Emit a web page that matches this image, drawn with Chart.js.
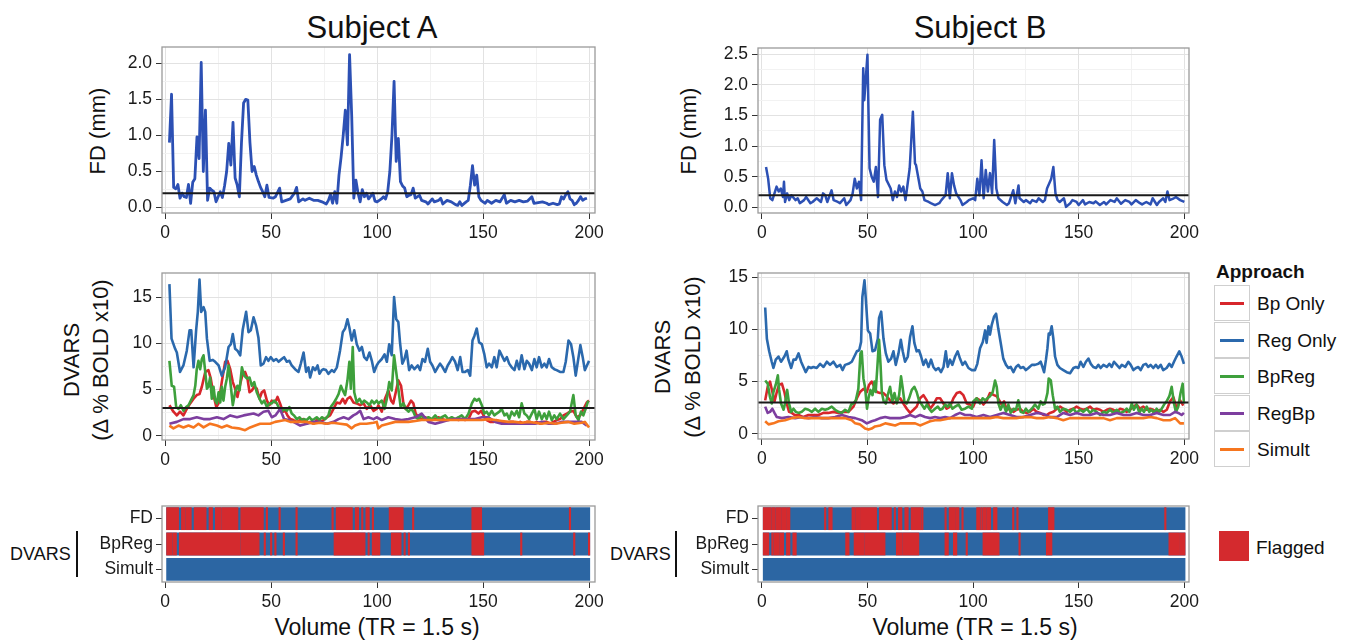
<!DOCTYPE html>
<html>
<head>
<meta charset="utf-8">
<script src="https://cdn.jsdelivr.net/npm/chart.js@4.4.0/dist/chart.umd.min.js"></script>
<style>
  body { margin: 0; background: #fff; width: 1356px; height: 642px; position: relative; overflow: hidden;
         font-family: "Liberation Sans", Arial, sans-serif; color: #111; }
  canvas { position: absolute; }
  .t { position: absolute; white-space: nowrap; line-height: 1; }
  .c { transform: translate(-50%, -50%); }
  .r { transform: translate(-50%, -50%) rotate(-90deg); }
  .key { position: absolute; width: 36px; height: 36px; border: 1px solid #cfcfcf; box-sizing: border-box; background: #fff; }
  .key i { position: absolute; left: 5px; right: 5px; top: 16px; height: 3px; }
</style>
</head>
<body>

<div class="t c" style="left:372px;top:27px;font-size:31px">Subject A</div>
<div class="t c" style="left:980px;top:27px;font-size:31px">Subject B</div>

<div class="t r" style="left:98px;top:131px;font-size:22px">FD (mm)</div>
<div class="t r" style="left:689px;top:131px;font-size:22px">FD (mm)</div>
<div class="t r" style="left:72px;top:360px;font-size:22px">DVARS</div>
<div class="t r" style="left:101px;top:360px;font-size:22px">(Δ % BOLD x10)</div>
<div class="t r" style="left:663px;top:357px;font-size:22px">DVARS</div>
<div class="t r" style="left:693px;top:357px;font-size:22px">(Δ % BOLD x10)</div>

<div class="t" style="left:10px;top:545px;font-size:18px">DVARS</div>
<div style="position:absolute;left:76px;top:531px;width:2px;height:46px;background:#111"></div>
<div class="t" style="left:610px;top:545px;font-size:18px">DVARS</div>
<div style="position:absolute;left:675px;top:531px;width:2px;height:46px;background:#111"></div>

<div class="t c" style="left:377px;top:627px;font-size:23px">Volume (TR = 1.5 s)</div>
<div class="t c" style="left:975px;top:627px;font-size:23px">Volume (TR = 1.5 s)</div>

<div class="t" style="left:1216px;top:262px;font-size:19px;font-weight:bold">Approach</div>
<div id="legend"></div>

<div style="position:absolute;left:1219px;top:531px;width:30px;height:30px;background:#d42a2e"></div>
<div class="t" style="left:1256px;top:538px;font-size:19px">Flagged</div>

<script>
/* ===== DATA: [volume, value] ===== */
const volumeTicks = [0, 50, 100, 150, 200];
const approaches = ["Bp Only", "Reg Only", "BpReg", "RegBp", "Simult"];
const flagRows = ["FD", "BpReg", "Simult"];
const fdThreshold = 0.2;
const dvarsThreshold = 3;

const fdA = [[2,0.9],[3,1.57],[4,0.28],[5,0.26],[6,0.32],[7,0.13],[8,0.2],[9,0.15],[10,0.14],[11,0.32],[12,0.06],[13,0.35],[14,0.4],[15,0.98],[16,0.68],[17,2.01],[18,0.5],[19,1.35],[20,0.1],[21,0.27],[22,0.24],[23,0.22],[24,0.08],[25,0.15],[26,0.22],[27,0.14],[28,0.3],[29,0.5],[30,0.89],[31,0.59],[32,1.18],[33,0.41],[34,0.31],[35,0.15],[36,0.9],[37,1.45],[38,1.5],[39,1.49],[40,0.9],[41,0.5],[42,0.57],[43,0.45],[44,0.36],[45,0.28],[46,0.22],[47,0.15],[48,0.31],[49,0.14],[51,0.13],[52,0.15],[54,0.27],[55,0.08],[57,0.1],[59,0.12],[61,0.2],[62,0.28],[63,0.08],[65,0.12],[66,0.1],[68,0.13],[70,0.1],[72,0.1],[74,0.08],[76,0.05],[77,0.1],[78,0.18],[79,0.06],[80,0.22],[81,0.06],[82,0.45],[83,0.7],[84,1.0],[85,1.35],[86,0.87],[87,2.12],[88,1.28],[89,0.13],[90,0.38],[91,0.2],[92,0.08],[93,0.25],[94,0.15],[95,0.2],[96,0.12],[98,0.2],[99,0.09],[100,0.08],[102,0.12],[103,0.15],[104,0.12],[105,0.22],[106,0.5],[107,1.0],[108,1.75],[109,0.64],[110,0.96],[111,0.36],[112,0.3],[113,0.27],[114,0.15],[115,0.17],[116,0.18],[117,0.27],[118,0.13],[120,0.17],[121,0.1],[123,0.08],[124,0.05],[126,0.12],[127,0.08],[129,0.1],[130,0.13],[131,0.05],[133,0.1],[135,0.08],[137,0.04],[138,0.03],[139,0.08],[140,0.03],[142,0.08],[143,0.1],[144,0.31],[145,0.58],[146,0.31],[147,0.45],[148,0.15],[149,0.1],[150,0.08],[151,0.06],[152,0.1],[154,0.06],[156,0.1],[158,0.08],[160,0.18],[161,0.06],[163,0.1],[165,0.08],[167,0.1],[169,0.08],[171,0.09],[173,0.15],[174,0.06],[176,0.07],[178,0.08],[180,0.06],[181,0.04],[183,0.06],[185,0.04],[186,0.05],[187,0.15],[188,0.12],[189,0.18],[190,0.22],[191,0.12],[192,0.1],[193,0.04],[194,0.06],[195,0.1],[196,0.15],[197,0.1],[198,0.12],[199,0.13]];

const fdB = [[2,0.66],[3,0.47],[4,0.15],[5,0.12],[7,0.34],[8,0.26],[9,0.31],[10,0.17],[10.5,0.42],[11,0.09],[12,0.23],[13,0.12],[14,0.2],[16,0.12],[17,0.15],[18,0.07],[20,0.12],[21,0.17],[23,0.07],[24,0.09],[26,0.15],[28,0.09],[29,0.23],[30,0.2],[31,0.09],[33,0.28],[34,0.12],[36,0.09],[37,0.07],[39,0.15],[40,0.04],[42,0.12],[43,0.23],[44,0.47],[45,0.31],[46,0.42],[47,0.12],[48,2.27],[48.5,1.75],[50,2.49],[51,0.64],[52,0.5],[53,0.42],[54,0.66],[55,0.17],[56,1.43],[57,1.51],[58,0.69],[59,0.45],[61,0.31],[62,0.12],[63,0.26],[64,0.17],[65,0.36],[66,0.26],[67,0.34],[68,0.12],[70,0.64],[71.5,1.56],[72.5,0.72],[73,0.69],[75,0.31],[76,0.26],[77,0.12],[79,0.09],[80,0.07],[82,0.04],[84,0.07],[85,0.12],[87,0.2],[88,0.56],[89,0.15],[90,0.56],[91,0.36],[92,0.23],[94,0.12],[95,0.04],[97,0.09],[98,0.12],[100,0.15],[101,0.12],[102,0.47],[103,0.2],[104,0.77],[105,0.15],[106,0.61],[107,0.26],[108,0.56],[109,0.23],[110,1.1],[111,0.31],[112,0.15],[114,0.09],[116,0.04],[117,0.07],[119,0.28],[120,0.07],[121.5,0.36],[122,0.15],[124,0.09],[125,0.12],[127,0.07],[128,0.12],[130,0.09],[131,0.15],[133,0.09],[134,0.12],[135,0.31],[137,0.47],[138,0.66],[139,0.23],[140,0.12],[141,0.09],[143,0.15],[144,0.01],[146,0.07],[147,0.12],[149,0.09],[150,0.04],[152,0.12],[153,0.05],[155,0.09],[157,0.07],[158,0.1],[160,0.04],[162,0.09],[163,0.05],[165,0.12],[167,0.09],[168,0.15],[170,0.06],[172,0.12],[174,0.09],[175,0.05],[177,0.12],[179,0.07],[180,0.05],[182,0.09],[184,0.05],[185,0.15],[187,0.04],[188,0.09],[190,0.15],[191,0.09],[192,0.26],[193,0.12],[195,0.15],[196,0.17],[198,0.12],[200,0.09]];

const regA = [[2,16.4],[3,10.5],[4.7,9.4],[5.5,9.0],[7,6.9],[8.6,7.6],[10.2,9.2],[11.5,11.4],[12.3,11.4],[13.4,7.4],[14.6,11.4],[15.4,13.4],[16.2,16.9],[17,13.4],[18.1,13.9],[18.9,13.4],[19.7,10.5],[21,8.1],[22.5,8.2],[23.6,8.0],[25.2,7.6],[26.7,6.5],[28.3,7.4],[29.9,9.6],[31,9.9],[31.9,11.0],[33,9.4],[34.1,9.2],[35.4,8.7],[36.6,11.5],[38.2,13.4],[39.3,11.2],[40.4,11.4],[41.7,12.8],[42.9,11.9],[44,10.6],[45.1,7.6],[46.4,7.8],[47.6,8.5],[48.7,8.1],[49.8,8.5],[51.1,8.1],[52.4,8.3],[53.5,8.0],[55,8.3],[56.1,8.5],[57.4,8.0],[58.6,8.1],[59.7,7.6],[61.3,7.2],[62.9,6.9],[64,7.8],[65.3,9.0],[66.5,6.9],[67.6,7.4],[68.4,6.3],[69.7,7.4],[70.8,7.1],[71.9,7.6],[72.8,6.7],[73.9,7.1],[74.7,7.2],[75.9,7.1],[77,6.7],[78.6,7.1],[79.7,6.9],[81,7.4],[82.5,9.2],[83.8,11.2],[84.9,11.6],[86,12.6],[86.9,11.7],[88,10.3],[89.2,11.4],[90.4,9.9],[91.7,9.2],[92.8,9.6],[93.9,8.5],[95.1,8.2],[96.4,9.0],[97.5,8.1],[98.6,6.9],[99.8,7.6],[100.6,7.9],[102.2,8.3],[103.5,8.8],[104.6,8.0],[105.7,9.9],[106.9,8.7],[108,15.0],[109,12.6],[110,12.3],[110.8,10.1],[111.9,7.8],[112.9,8.3],[113.9,9.2],[115.1,7.1],[116.3,7.6],[117.6,7.2],[119.2,7.6],[120.3,7.1],[121.4,8.3],[122.6,8.0],[123.9,9.4],[125,8.0],[126.1,7.6],[127.4,6.9],[128.6,7.4],[129.7,7.8],[130.9,7.4],[132.1,6.9],[133.3,7.6],[134.4,8.0],[135.5,8.5],[136.8,8.0],[138,7.1],[139.2,8.5],[140.3,6.9],[141.5,6.9],[142.8,7.1],[143.9,6.5],[145,10.3],[145.9,10.8],[147,11.6],[148.1,10.1],[149.4,9.9],[150.6,8.8],[151.7,7.4],[152.8,7.8],[154.1,7.4],[155.3,8.5],[156.4,7.4],[157.7,9.2],[158.8,8.7],[160.1,8.1],[161.2,8.5],[162.3,7.8],[163.5,7.4],[164.8,7.1],[165.9,8.1],[167,7.2],[168.2,8.7],[169.5,7.2],[170.6,8.1],[171.7,7.8],[173,7.1],[174.2,8.3],[175.3,7.4],[176.4,8.5],[177.7,7.4],[178.9,7.8],[180,7.4],[181.1,8.3],[182.4,7.4],[183.6,7.2],[184.7,7.1],[186.3,6.9],[187.9,6.9],[189,8.0],[190.3,10.3],[191.5,9.9],[192.6,8.5],[193.7,6.5],[194.7,8.0],[195.9,9.8],[197,8.5],[198,7.1],[199,7.6],[200,8.1]];

const bpA = [[2,3.3],[3.9,2.6],[5.5,2.2],[7,2.6],[8.6,2.2],[10.2,2.9],[11.8,3.5],[13.4,4.0],[14.9,4.4],[16.2,4.5],[17.3,5.3],[18.9,6.9],[20.4,7.1],[21.5,6.2],[22.8,4.4],[24.1,3.1],[25.2,3.5],[26.7,5.8],[28.3,8.0],[29.4,8.1],[30.7,7.2],[31.9,5.8],[33,5.1],[34.1,4.2],[35.4,5.6],[36.6,6.7],[37.7,6.9],[38.8,6.2],[39.8,4.7],[40.9,4.9],[42,5.3],[43.2,5.1],[44.5,4.0],[45.6,4.7],[46.7,4.9],[48,3.8],[49.2,3.3],[50.3,3.8],[51.9,3.6],[53,4.2],[54.2,3.5],[55.5,2.6],[56.6,2.7],[57.7,2.2],[59,1.8],[60.5,1.7],[62.1,1.5],[63.7,1.7],[65.3,1.8],[66.8,1.3],[68.4,1.5],[70,1.3],[71.5,1.7],[73.1,1.5],[74.7,1.7],[76.3,2.0],[77.8,2.2],[79.4,2.9],[81,3.6],[82.5,3.5],[83.8,4.0],[84.9,3.5],[86,4.0],[87.3,4.2],[88.8,3.6],[90.4,3.5],[92,3.3],[93.6,3.5],[95.1,2.9],[96.7,3.3],[98.3,2.7],[99.8,2.9],[100.6,3.3],[102.2,2.6],[103.7,4.0],[105.3,4.9],[106.6,3.8],[107.6,3.5],[108.8,4.7],[110,6.0],[111.3,5.4],[112.4,3.5],[113.5,2.9],[114.8,3.3],[116,3.8],[117.1,3.5],[118.2,2.4],[119.5,2.0],[121,1.8],[122.6,2.0],[124.2,1.8],[125.8,1.7],[127.4,1.8],[128.9,2.0],[130.5,1.8],[132.1,1.7],[133.6,1.7],[135.2,1.8],[136.8,1.8],[138.4,1.7],[139.9,1.8],[141.5,1.7],[143.1,1.8],[144.7,2.6],[146.2,2.7],[147.8,2.4],[149.1,2.7],[150.2,2.2],[151.7,1.7],[153.3,1.5],[154.9,1.5],[156.4,1.7],[158,1.5],[159.6,1.5],[161.2,1.3],[162.7,1.5],[164.3,1.5],[165.9,1.3],[167.5,1.5],[169,1.3],[170.6,1.5],[172.2,1.5],[173.7,1.3],[175.3,1.5],[176.9,1.3],[178.5,1.5],[180,1.5],[181.6,1.3],[183.2,1.5],[184.8,1.7],[186.3,1.8],[187.9,2.2],[189.5,2.4],[191,2.6],[192.6,2.7],[194.2,2.0],[195.8,2.2],[197.4,2.9],[198.9,3.6],[200,3.8]];

const bpRegA = [[2,8.1],[3.1,5.4],[4.2,5.3],[5.2,3.1],[6.3,2.9],[7.4,3.3],[8.6,2.7],[9.9,3.1],[11,3.3],[12.1,3.8],[13.4,4.4],[14.2,5.4],[14.9,7.2],[15.7,8.1],[16.5,7.2],[17.3,8.3],[18.1,8.7],[18.9,6.9],[19.7,5.1],[20.4,5.3],[21.2,6.3],[22,4.0],[22.8,5.3],[23.6,3.8],[24.4,3.5],[25.2,4.7],[26,3.6],[26.7,5.3],[27.5,3.8],[28.3,5.3],[29.1,6.2],[29.9,7.6],[31,5.3],[31.9,3.3],[33,4.7],[34.1,5.4],[35.1,4.9],[36.2,7.4],[37.3,6.5],[38.5,6.2],[39.8,6.3],[40.9,5.4],[42,5.8],[43.2,4.7],[44.5,4.0],[45.6,3.5],[46.7,3.8],[48,3.1],[49.2,3.5],[50.3,3.5],[51.4,3.8],[52.7,3.5],[53.9,2.9],[55,2.6],[56.1,2.9],[57.4,2.7],[58.6,3.1],[59.7,2.4],[60.8,2.2],[62.1,1.8],[63.4,2.0],[64.5,1.7],[65.6,1.8],[66.8,1.7],[68.1,2.0],[69.2,1.7],[70.3,1.8],[71.5,2.0],[72.8,1.7],[73.9,2.0],[75.5,1.8],[77,2.2],[78.1,3.1],[79.4,3.5],[80.7,4.0],[81.8,4.5],[82.9,5.4],[83.8,4.9],[84.9,4.4],[86,6.0],[86.9,8.0],[87.6,5.1],[88.5,9.6],[89.2,4.7],[90.4,3.6],[91.7,4.0],[92.8,3.5],[93.9,3.8],[95.1,3.6],[96.4,3.3],[97.5,3.8],[98.6,3.5],[99.8,3.8],[100.6,3.5],[102.2,3.8],[103.5,2.9],[104.6,4.0],[105.7,5.8],[106.9,4.9],[108,8.7],[109,6.9],[110,5.1],[111.1,3.1],[112.4,3.5],[113.5,2.9],[114.8,2.6],[116,2.9],[117.1,2.6],[118.2,2.0],[119.5,1.8],[121,2.2],[122.6,1.8],[124.2,2.0],[125.8,1.8],[127.4,2.2],[128.9,1.8],[130.5,2.0],[132.1,2.2],[133.6,1.8],[135.2,2.0],[136.8,1.8],[138.4,2.0],[139.9,2.2],[141.5,1.8],[143.1,2.4],[144.7,3.5],[145.9,4.0],[147,3.8],[148.1,4.0],[149.4,3.3],[150.6,2.4],[151.7,2.6],[152.8,2.2],[154.1,2.7],[155.3,2.2],[156.4,2.4],[157.7,2.6],[158.8,2.9],[160.1,2.2],[161.2,2.4],[162.3,1.8],[163.5,2.6],[164.8,2.2],[165.9,2.7],[167,2.0],[168.2,3.5],[169.5,2.4],[170.6,2.2],[171.7,1.8],[173,2.4],[174.2,2.9],[175.3,1.8],[176.4,2.6],[177.7,1.8],[178.9,2.4],[180,1.8],[181.1,2.6],[182.4,1.7],[183.6,2.2],[184.7,1.8],[186.3,2.4],[187.9,1.8],[189.5,2.2],[191,2.6],[192.6,4.4],[193.7,2.2],[195,1.7],[196.2,2.6],[197.3,2.2],[198.4,2.9],[199.6,3.8]];

const regBpA = [[2,1.3],[5.5,1.5],[8.6,1.8],[11.8,1.8],[14.9,2.0],[18.1,1.8],[21.2,1.8],[24.4,2.0],[27.5,1.8],[30.7,2.2],[33.9,2.0],[37,2.2],[41.7,2.4],[44,2.2],[46.4,2.6],[48.7,2.7],[50.3,2.0],[52,2.2],[54.2,2.9],[56.1,1.8],[58.2,1.7],[60.5,1.5],[63.7,1.1],[66.8,1.3],[70,1.5],[73.1,1.5],[76.3,1.3],[79.4,1.5],[81.8,1.8],[84.2,2.0],[86.5,1.8],[88.8,2.2],[90.4,2.4],[92,2.7],[93.6,1.8],[95.9,2.0],[98.3,1.8],[99.8,2.0],[102.2,1.7],[105.3,2.0],[108.5,1.8],[111.6,1.7],[114.8,1.8],[118,2.0],[121,2.4],[124.2,1.5],[127.4,1.3],[130.5,1.5],[133.6,1.7],[136.8,1.8],[140,1.8],[143.1,1.8],[146.2,1.8],[149.4,2.0],[152.5,2.0],[155.7,1.5],[158.8,1.3],[162,1.3],[165,1.3],[168.2,1.3],[171.4,1.3],[174.5,1.3],[177.7,1.5],[180.9,1.3],[184,1.3],[187,1.5],[190.2,1.5],[193,1.5],[196.5,1.5],[199,1.1]];

const simultA = [[2,1.1],[3.9,0.8],[6.3,1.1],[8.6,0.9],[11,1.1],[13.4,0.9],[15.7,1.3],[18.1,0.9],[21.2,1.3],[24.4,1.1],[26.7,0.9],[29.1,1.1],[31.4,0.9],[34.6,0.8],[37.7,0.6],[40.1,0.9],[42.5,1.1],[44.8,1.3],[47.2,1.3],[49.5,1.3],[51.9,1.5],[54.2,1.6],[56.6,1.7],[59,1.5],[61.3,1.5],[64,1.5],[66.8,1.5],[70,1.3],[73,1.4],[76,1.3],[79,1.4],[82.5,1.3],[85.7,1.2],[88,0.8],[89.6,1.1],[92,1.3],[95,1.3],[98.3,1.4],[99.8,1.5],[100.6,0.8],[102.2,1.1],[105.3,1.3],[108.5,1.5],[111.6,1.5],[114.8,1.5],[118,1.6],[121,1.7],[124.2,1.7],[127.4,1.7],[130.5,1.7],[133.6,1.7],[136.8,1.7],[140,1.7],[143.1,1.7],[146.2,1.7],[149.4,1.7],[152.5,1.8],[155.7,1.7],[158.8,1.6],[162,1.5],[165,1.5],[168.2,1.4],[171.4,1.5],[174.5,1.4],[177.7,1.3],[180.9,1.4],[184,1.3],[187,1.4],[190.2,1.5],[193,1.3],[196.5,1.4],[198,1.5],[200,0.9]];

const regB = [[1.6,12.1],[2.4,9.1],[3.5,7.9],[4.7,6.9],[5.5,6.3],[6.6,7.1],[7.9,7.4],[9.1,6.9],[10.7,7.4],[11.8,7.9],[12.6,7.1],[13.9,6.3],[15,7.1],[16.1,7.1],[17.4,7.7],[18.6,6.9],[19.7,6.4],[20.8,5.9],[22.1,6.4],[23.3,6.3],[24.4,6.4],[26,6.3],[27.6,6.7],[29.2,6.4],[30.8,6.9],[32.3,6.6],[33.9,6.9],[35.5,6.4],[37.1,6.6],[38.2,6.1],[39.4,6.6],[41,6.7],[42.6,6.9],[43.8,7.4],[45,7.9],[46.1,8.0],[47,8.8],[47.6,13.1],[48.6,14.7],[49.2,13.0],[50.2,9.9],[51.3,9.6],[52.4,7.9],[53.6,8.0],[54.9,9.1],[55.5,11.1],[56.5,11.7],[57.6,9.1],[58.7,7.7],[59.9,6.9],[61.2,7.2],[62.3,7.9],[63.4,6.6],[64.7,7.7],[65.8,9.0],[66.7,7.9],[67.8,6.9],[69.1,7.4],[70.2,9.3],[71.3,10.3],[72.2,8.7],[73.3,7.9],[74.4,8.0],[75.4,7.4],[76.5,6.6],[77.6,7.1],[78.9,6.4],[80.1,7.1],[81.2,6.4],[82.3,6.1],[83.6,6.3],[84.8,5.9],[86,6.4],[87.1,7.9],[88,6.4],[89.1,7.1],[90.2,6.6],[91.5,7.4],[92.7,7.9],[93.8,7.2],[95,6.6],[96.2,6.9],[97.8,6.3],[99.4,6.1],[100.9,6.1],[102,6.7],[103.3,8.2],[104.6,8.8],[105.7,9.9],[106.4,8.7],[107.3,10.3],[108,9.5],[108.8,10.4],[109.9,11.2],[110.9,11.5],[111.9,10.1],[113,8.8],[114.3,7.2],[115.6,6.6],[116.7,6.3],[117.8,6.4],[119.1,5.9],[120.3,6.4],[121.4,6.6],[122.5,6.3],[123.8,6.4],[125,6.1],[126.2,6.3],[127.8,6.6],[129.3,6.6],[130.9,6.7],[132,6.9],[133,6.3],[133.6,5.9],[134.5,7.1],[135.2,8.2],[135.8,9.6],[136.4,9.5],[137.2,10.3],[138,9.1],[138.8,7.4],[139.9,6.6],[141.1,6.3],[142.7,6.1],[144.3,5.9],[145.9,5.8],[147.5,6.3],[148.7,6.4],[149.8,6.3],[150.9,6.9],[152.2,6.4],[153.4,6.9],[154.6,7.2],[155.7,6.7],[156.9,6.4],[158.2,6.3],[159.3,6.6],[160.4,6.3],[161.7,6.6],[163.3,6.4],[164.5,6.7],[165.6,6.4],[166.7,6.9],[168,6.6],[169.3,6.3],[170.4,6.6],[172,6.4],[173.5,6.9],[174.6,6.6],[175.9,6.1],[177.1,6.3],[178.2,6.4],[179.3,6.1],[180.6,6.6],[181.8,6.7],[182.9,6.4],[184,6.6],[185.3,6.3],[186.5,6.6],[187.6,6.3],[188.8,6.6],[190,6.1],[191.6,6.3],[192.9,6.7],[194,6.4],[195.1,6.9],[196.3,7.4],[197.6,7.9],[198.7,7.4],[199.8,6.7]];

const bpB = [[1.6,3.2],[2.8,4.5],[3.9,5.0],[5,4.0],[6,3.1],[7.1,4.0],[8.2,4.7],[9.5,4.8],[10.7,4.0],[11.8,2.9],[12.9,2.1],[14.2,2.0],[15.5,1.8],[17.4,1.8],[19.7,1.6],[22.1,1.8],[24.4,1.8],[26.8,1.8],[29.2,2.0],[31.5,2.0],[33.9,2.1],[36.3,2.0],[38.6,2.1],[41,2.1],[43.4,2.6],[45,3.4],[46.5,4.0],[48.1,4.3],[49.7,4.0],[50.8,4.7],[52,5.0],[53.3,4.5],[54.4,4.0],[56,3.9],[57.6,3.9],[59.1,3.6],[60.7,3.2],[62.3,2.9],[63.9,3.2],[65.5,3.4],[67,2.9],[68.6,2.4],[70.2,2.0],[71.8,2.3],[73.3,2.6],[74.9,3.4],[76.5,3.7],[78.1,3.2],[79.7,2.4],[81.2,2.8],[82.8,3.4],[84.4,3.4],[86,2.9],[87.5,2.4],[89.1,2.6],[90.7,3.4],[92.3,3.9],[93.8,4.0],[95.4,3.7],[97,2.9],[98.6,2.8],[100.1,2.6],[101.7,3.4],[103.3,3.2],[104.9,2.8],[106.5,3.2],[108,3.9],[109.9,3.7],[111.2,3.6],[112.4,3.2],[113.5,2.8],[114.7,3.1],[115.9,2.3],[117.5,2.4],[119.1,2.1],[120.6,2.3],[122.2,2.4],[123.8,2.1],[125.4,2.0],[126.9,2.1],[128.5,2.4],[130.1,2.1],[131.7,2.0],[133.3,1.8],[134.8,1.8],[136.4,2.0],[138,2.1],[139.6,2.4],[141.2,2.6],[142.7,2.4],[144.3,2.1],[145.9,2.3],[147.5,2.4],[149,2.6],[150.6,2.4],[152.2,2.3],[153.8,2.4],[155.4,2.6],[156.9,2.3],[158.5,2.4],[160.1,2.3],[161.7,2.1],[163.3,2.3],[164.8,2.4],[166.4,2.3],[168,2.1],[169.6,2.4],[171.2,2.3],[172.7,2.1],[174.3,2.3],[175.9,2.6],[177.4,2.8],[179,2.4],[180.6,2.6],[182.2,2.3],[183.8,2.4],[185.3,2.3],[186.9,2.1],[188.5,2.3],[190.1,2.1],[191.7,2.3],[193.2,3.1],[194.8,3.5],[196.4,2.4],[198,3.2],[199.5,2.7]];

const bpRegB = [[1.6,5.1],[2.8,4.8],[3.9,3.5],[4.7,2.9],[5.5,4.0],[6.6,4.7],[7.6,5.6],[8.2,4.2],[9.1,2.9],[10.3,2.3],[11,2.9],[12,4.2],[12.9,2.9],[13.9,2.1],[15,2.4],[16.1,2.1],[17.4,2.0],[18.9,2.1],[20.5,2.4],[22.1,2.3],[23.7,2.1],[25.2,2.4],[26.8,2.1],[28.4,2.4],[30,2.3],[31.5,2.4],[33.1,2.6],[34.7,2.3],[36.3,2.1],[37.9,2.0],[39.4,2.3],[41,2.1],[42.3,2.8],[43.4,2.9],[44.5,3.2],[45.7,4.3],[46.7,7.7],[47.3,7.9],[48.1,5.3],[48.9,4.4],[49.8,2.4],[50.5,3.4],[51.4,4.2],[52.4,3.7],[53.3,5.0],[53.9,4.0],[54.6,6.1],[55.5,9.0],[56.2,6.6],[56.8,4.0],[57.7,3.1],[58.7,2.9],[59.6,3.7],[60.7,4.5],[61.8,3.1],[62.8,3.9],[63.9,2.9],[65,3.7],[65.9,5.5],[66.6,4.5],[67.5,3.1],[68.6,2.9],[69.7,3.4],[71,4.2],[72.2,4.5],[73.3,4.0],[74.4,3.2],[75.7,2.8],[77,2.4],[78.1,2.8],[79.2,2.4],[80.4,2.1],[82,2.4],[83.3,2.6],[84.4,2.3],[85.5,2.4],[86.8,2.8],[88,2.6],[89.1,2.9],[90.2,2.4],[91.5,2.6],[93.1,2.8],[94.6,2.3],[96.2,2.4],[97.8,2.6],[99.4,2.4],[100.1,3.1],[101.7,3.4],[103.3,2.9],[104.5,3.4],[105.7,3.2],[106.8,3.4],[108,3.6],[109.3,4.0],[110.4,5.1],[111.2,4.5],[112,2.9],[113,2.3],[114.3,2.9],[115.6,2.1],[116.7,2.8],[117.8,2.0],[119.1,2.4],[120.3,2.3],[121.4,3.2],[122.5,2.1],[123.8,2.0],[125,2.4],[126.2,2.1],[127.8,2.4],[129.3,2.8],[130.9,2.4],[132,3.1],[133,2.8],[134,2.9],[135.2,3.9],[135.8,5.3],[136.8,5.1],[137.7,3.7],[138.8,2.4],[139.9,2.6],[141.1,2.1],[142.7,2.4],[144.3,2.3],[145.9,2.1],[147.5,2.4],[149,2.0],[150.6,2.3],[152.2,2.1],[153.8,2.4],[155.4,2.0],[156.9,2.3],[158.5,2.1],[160.1,1.8],[161.7,2.1],[163.3,2.0],[164.8,2.3],[166.4,2.0],[168,2.3],[169.6,2.0],[171.2,2.1],[172.7,2.4],[174,2.1],[175.1,2.9],[176.1,2.3],[177.4,2.8],[178.7,2.0],[179.8,2.4],[180.9,2.1],[182.2,2.6],[183.4,2.1],[184.5,2.3],[185.6,2.0],[186.9,2.4],[188.1,2.1],[189.3,2.4],[190.4,2.8],[191.6,3.1],[192.9,3.6],[194,4.5],[195.1,2.9],[196,2.1],[197.1,2.6],[198.2,3.9],[199.2,4.8],[199.8,2.9]];

const regBpB = [[1.6,2.6],[2.8,2.0],[3.9,2.1],[5,2.4],[6,2.0],[7.1,1.6],[9.5,1.5],[12.6,1.6],[15.8,1.5],[18.9,1.6],[22.1,1.5],[25.2,1.6],[28.4,1.5],[31.5,1.5],[34.7,1.6],[37.9,1.8],[41,1.6],[44.2,1.5],[47.3,1.3],[49.7,1.0],[52,1.2],[53.6,1.3],[56,1.5],[58.4,1.6],[60.7,1.5],[63.1,1.5],[65.5,1.5],[67.8,1.6],[70.2,1.8],[72.6,1.6],[74.9,1.8],[77.3,1.6],[79.7,1.5],[82,1.6],[84.4,1.5],[86.8,1.6],[89.1,1.5],[91.5,1.8],[93.8,2.0],[96.2,1.8],[98.6,1.8],[101.7,1.6],[104.9,1.8],[108,1.6],[111.2,1.8],[114.3,2.0],[117.5,1.8],[120.6,1.6],[123.8,1.6],[126.9,1.8],[130.1,2.0],[133.3,1.9],[136.4,1.6],[139.6,1.6],[142.7,2.0],[145.9,1.8],[149,2.0],[152.2,1.8],[155.4,1.8],[158.5,2.0],[161.7,1.8],[164.8,1.8],[168,2.0],[171.2,1.8],[174.3,1.8],[177.4,2.0],[180.6,1.8],[183.8,1.8],[186.9,2.0],[190.1,1.8],[193.2,1.8],[195.6,2.1],[197.1,2.0],[198.7,1.8],[199.8,2.0]];

const simultB = [[1.6,1.2],[3.2,0.9],[5.5,1.0],[7.9,1.2],[11,1.3],[14.2,1.5],[17.4,1.6],[20.5,1.5],[23.7,1.5],[26.8,1.5],[30,1.5],[33.1,1.5],[36.3,1.5],[39.4,1.5],[42.6,1.3],[44.2,1.0],[46.5,0.9],[48.9,0.5],[50.5,0.4],[52,0.5],[53.6,0.7],[56,0.8],[58.4,1.0],[60.7,0.9],[63.1,0.8],[65.5,1.0],[67.8,1.0],[70.2,1.0],[72.6,1.0],[74.9,0.8],[77.3,1.0],[79.7,1.2],[82,1.3],[84.4,1.3],[86.8,1.4],[89.1,1.5],[91.5,1.5],[93.8,1.5],[96.2,1.5],[98.6,1.5],[101.7,1.5],[104.9,1.5],[108,1.5],[111.2,1.6],[114.3,1.5],[117.5,1.5],[120.6,1.5],[123.8,1.6],[126.9,1.6],[130.1,1.5],[133.3,1.5],[136.4,1.6],[139.6,1.5],[142.7,1.3],[145.9,1.5],[149,1.5],[152.2,1.5],[155.4,1.5],[158.5,1.5],[161.7,1.5],[164.8,1.3],[168,1.5],[171.2,1.5],[174.3,1.5],[177.4,1.5],[180.6,1.5],[183.8,1.6],[186.9,1.5],[190.1,1.3],[193.2,1.3],[195.6,1.5],[198,1.0],[199.8,1.0]];

/* flagged volume ranges [first, last] */
const fdFlagA = [[1,6],[8,9],[10,12],[14,19],[21,22],[24,26],[27,34],[36,46],[48,48],[54,54],[62,62],[79,79],[81,88],[90,91],[93,93],[95,96],[98,98],[106,112],[117,117],[145,149],[191,191]];
const bpRegFlagA = [[1,3],[4,5],[7,35],[36,44],[47,47],[50,50],[52,52],[56,56],[62,62],[80,94],[96,96],[98,101],[107,111],[113,113],[115,115],[145,150],[168,168],[193,193],[200,200]];
const simultFlagA = [];
const fdFlagB = [[1,4],[5,6],[7,9],[10,11],[12,13],[30,30],[32,33],[43,44],[45,46],[47,54],[56,61],[63,63],[65,66],[68,69],[71,75],[76,76],[87,87],[89,91],[92,93],[95,95],[102,103],[104,104],[105,106],[107,108],[110,111],[119,119],[121,121],[136,138],[191,191]];
const bpRegFlagB = [[1,3],[5,5],[6,8],[9,10],[12,13],[15,16],[40,41],[44,48],[49,58],[64,66],[67,74],[87,88],[91,92],[97,97],[105,112],[122,122],[135,137],[193,197],[198,200]];
const simultFlagB = [];

/* ===== STYLE ===== */
const COLORS = { "Bp Only": "#d7262b", "Reg Only": "#2b69ad", "BpReg": "#3ea03c", "RegBp": "#7d3e9f", "Simult": "#f6761f" };
const FD_COLOR = "#2c50b4";
const TILE_BLUE = "#2c66a3";
const TILE_RED = "#d42a2e";
const FONT = '"Liberation Sans", Arial, sans-serif';
Chart.defaults.font.family = FONT;
Chart.defaults.animation = false;

const PAD_L = 80, PAD_B = 40, PAD_T = 12, PAD_R = 22;

/* ===== HELPERS ===== */
const pts = (arr) => arr.map(([x, y]) => ({ x, y }));
const isMajor = (v, step) => Math.abs(v / step - Math.round(v / step)) < 1e-6;

function makeCanvas(f) {
  const c = document.createElement("canvas");
  c.width = f.r - f.l + PAD_L + PAD_R;
  c.height = f.b - f.t + PAD_T + PAD_B;
  c.style.left = f.l - PAD_L + "px";
  c.style.top = f.t - PAD_T + "px";
  document.body.appendChild(c);
  return c;
}

function fixFit(s, side) {
  if (side === "x") s.height = PAD_B; else s.width = PAD_L;
  s.paddingTop = s.paddingBottom = s.paddingLeft = s.paddingRight = 0;
}

function linAxis(min, max, step, vals, fmt, side, onArea = true) {
  return {
    type: "linear", min, max, bounds: "data",
    afterBuildTicks: (s) => { s.ticks = vals.map((v) => ({ value: v })); },
    afterFit: (s) => fixFit(s, side),
    border: { display: false },
    grid: {
      drawOnChartArea: onArea,
      color: (c) => (isMajor(c.tick.value, step) ? "#e2e2e2" : "#f2f2f2"),
      tickLength: 6,
      tickColor: (c) => (isMajor(c.tick.value, step) ? "#333" : "rgba(0,0,0,0)"),
    },
    ticks: {
      autoSkip: false, maxRotation: 0, padding: 4, color: "#1a1a1a",
      font: { size: 17.5 },
      callback: (v) => (isMajor(v, step) ? fmt(v) : ""),
    },
  };
}

const framePlugin = {
  id: "frame",
  afterDatasetsDraw(chart) {
    const a = chart.chartArea, ctx = chart.ctx;
    ctx.save();
    ctx.strokeStyle = "#9a9a9a";
    ctx.lineWidth = 1.3;
    ctx.strokeRect(a.left, a.top, a.right - a.left, a.bottom - a.top);
    ctx.restore();
  },
};

const xVals = [0, 25, 50, 75, 100, 125, 150, 175, 200];

function lineDs(data, color, width) {
  return { data: pts(data), borderColor: color, borderWidth: width, pointRadius: 0,
           tension: 0, borderJoinStyle: "round", fill: false };
}
function hline(y, xr) {
  return lineDs([[xr[0], y], [xr[1], y]], "#1a1a1a", 2);
}

const baseOptions = () => ({
  responsive: false,
  layout: { autoPadding: false, padding: { top: PAD_T, right: PAD_R, left: 0, bottom: 0 } },
  plugins: { legend: { display: false }, tooltip: { enabled: false } },
});

function lineChart(frame, xr, yr, yStep, yVals, yFmt, series, thr) {
  const datasets = [hline(thr, xr)].concat(series);
  new Chart(makeCanvas(frame), {
    type: "line",
    data: { datasets },
    options: Object.assign(baseOptions(), {
      scales: {
        x: linAxis(xr[0], xr[1], 50, xVals, (v) => v, "x"),
        y: linAxis(yr[0], yr[1], yStep, yVals, yFmt, "y"),
      },
    }),
    plugins: [framePlugin],
  });
}

function flagChart(frame, xr, fdFlags, bpFlags, siFlags) {
  const seg = (row, list) => list.map(([a, b]) => ({ y: row, x: [a - 0.5, b + 0.5] }));
  const bar = (data, color) => ({ data, backgroundColor: color, borderWidth: 0,
                                 barPercentage: 0.9, categoryPercentage: 1, grouped: false });
  new Chart(makeCanvas(frame), {
    type: "bar",
    data: {
      labels: flagRows,
      datasets: [
        bar(seg("FD", fdFlags).concat(seg("BpReg", bpFlags), seg("Simult", siFlags)), TILE_RED),
        bar(flagRows.map((r) => ({ y: r, x: [0.5, 200.5] })), TILE_BLUE),
      ],
    },
    options: Object.assign(baseOptions(), {
      indexAxis: "y",
      scales: {
        x: linAxis(xr[0], xr[1], 50, volumeTicks, (v) => v, "x", false),
        y: {
          type: "category", offset: true,
          afterFit: (s) => fixFit(s, "y"),
          border: { display: false },
          grid: { offset: false, drawOnChartArea: false, tickLength: 6, tickColor: "#333" },
          ticks: { autoSkip: false, padding: 3, color: "#1a1a1a", font: { size: 17.5 } },
        },
      },
    }),
    plugins: [framePlugin],
  });
}

/* ===== PANELS ===== */
const fmt1 = (v) => v.toFixed(1);
const fmt0 = (v) => String(v);

lineChart({ l: 162, r: 595, t: 47, b: 213 }, [-1.5, 202.8], [-0.075, 2.225], 0.5,
  [0, 0.25, 0.5, 0.75, 1, 1.25, 1.5, 1.75, 2], fmt1, [lineDs(fdA, FD_COLOR, 2.8)], fdThreshold);

lineChart({ l: 758, r: 1189, t: 48, b: 213 }, [-1.8, 202.2], [-0.09, 2.6], 0.5,
  [0, 0.25, 0.5, 0.75, 1, 1.25, 1.5, 1.75, 2, 2.25, 2.5], fmt1, [lineDs(fdB, FD_COLOR, 2.5)], fdThreshold);

function dvarsSeries(bp, reg, bpr, rbp, si) {
  // topmost first: Simult, RegBp, BpReg, Reg Only, Bp Only
  return [
    lineDs(si, COLORS["Simult"], 2.6),
    lineDs(rbp, COLORS["RegBp"], 2.6),
    lineDs(bpr, COLORS["BpReg"], 2.6),
    lineDs(reg, COLORS["Reg Only"], 2.6),
    lineDs(bp, COLORS["Bp Only"], 2.6),
  ];
}

lineChart({ l: 162, r: 595, t: 273, b: 440 }, [-1.5, 202.8], [-0.46, 17.6], 5,
  [0, 2.5, 5, 7.5, 10, 12.5, 15], fmt0, dvarsSeries(bpA, regA, bpRegA, regBpA, simultA), dvarsThreshold);

lineChart({ l: 758, r: 1189, t: 273, b: 439 }, [-1.8, 202.2], [-0.5, 15.4], 5,
  [0, 2.5, 5, 7.5, 10, 12.5, 15], fmt0, dvarsSeries(bpB, regB, bpRegB, regBpB, simultB), dvarsThreshold);

flagChart({ l: 162, r: 595, t: 506, b: 582 }, [-1.5, 202.8], fdFlagA, bpRegFlagA, simultFlagA);
flagChart({ l: 758, r: 1189, t: 506, b: 582 }, [-1.8, 202.2], fdFlagB, bpRegFlagB, simultFlagB);

/* ===== LEGEND ===== */
const legend = document.getElementById("legend");
approaches.forEach((name, i) => {
  const top = 285 + i * 36.5;
  const k = document.createElement("div");
  k.className = "key";
  k.style.left = "1214px";
  k.style.top = top + "px";
  k.innerHTML = `<i style="background:${COLORS[name]}"></i>`;
  legend.appendChild(k);
  const t = document.createElement("div");
  t.className = "t";
  t.style.left = "1257px";
  t.style.top = top + 9 + "px";
  t.style.fontSize = "19px";
  t.textContent = name;
  legend.appendChild(t);
});
</script>
</body>
</html>
